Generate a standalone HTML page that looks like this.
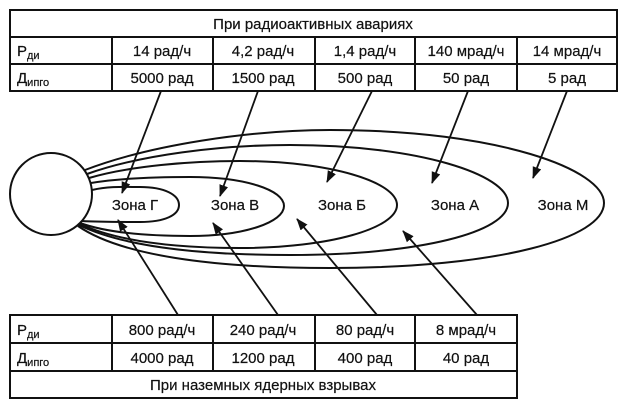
<!DOCTYPE html>
<html><head><meta charset="utf-8"><style>
html,body{margin:0;padding:0;background:#fff;}
svg{display:block;}
text{font-family:"Liberation Sans",sans-serif;font-size:15px;fill:#111;stroke:#111;stroke-width:0.2;}
</style></head><body>
<svg width="626" height="407" viewBox="0 0 626 407" xmlns="http://www.w3.org/2000/svg">
<defs><marker id="a" markerWidth="12" markerHeight="12" refX="11" refY="6" orient="auto" markerUnits="userSpaceOnUse"><path d="M0,1.5 L12,6 L0,10.5 Z" fill="#111"/></marker></defs>
<g stroke="#111" stroke-width="2" fill="none">
<rect x="10" y="10" width="607" height="81"/>
<line x1="10" y1="37" x2="617" y2="37"/><line x1="10" y1="64" x2="617" y2="64"/>
<line x1="112" y1="37" x2="112" y2="91"/><line x1="213" y1="37" x2="213" y2="91"/>
<line x1="315" y1="37" x2="315" y2="91"/><line x1="415" y1="37" x2="415" y2="91"/>
<line x1="517" y1="37" x2="517" y2="91"/>
<rect x="10" y="315" width="507" height="83"/>
<line x1="10" y1="343" x2="517" y2="343"/><line x1="10" y1="371" x2="517" y2="371"/>
<line x1="112" y1="315" x2="112" y2="371"/><line x1="213" y1="315" x2="213" y2="371"/>
<line x1="315" y1="315" x2="315" y2="371"/><line x1="415" y1="315" x2="415" y2="371"/>
<path d="M92,190 C110,186 125,187 140,187 C165,187 179,195 179,205 C179,215 165,222 140,222 C115,222 98,222 82,221"/>
<path d="M91,183 C120,178 160,177 190,177 C245,177 284,190 284,206 C284,222 245,236 190,236 C140,236 105,232 80,223"/>
<path d="M89,178 C130,166 190,161 240,161 C330,161 397,182 397,205 C397,228 330,248 240,248 C170,248 115,240 80,224"/>
<path d="M87,174 C140,155 220,145 290,145 C420,145 508,175 508,203 C508,232 420,255 290,255 C190,255 120,245 79,225"/>
<path d="M85,170 C150,145 250,130 330,130 C500,130 604,170 604,203 C604,238 500,268 330,268 C210,268 120,255 78,226"/>
</g>
<circle cx="51" cy="194" r="41" fill="#fff" stroke="#111" stroke-width="2"/>
<g stroke="#111" stroke-width="1.8" marker-end="url(#a)">
<line x1="161" y1="91" x2="122" y2="193"/>
<line x1="258" y1="91" x2="220" y2="196"/>
<line x1="372" y1="91" x2="327" y2="182"/>
<line x1="468" y1="91" x2="432" y2="183"/>
<line x1="567" y1="91" x2="533" y2="178"/>
<line x1="178" y1="315" x2="118" y2="220"/>
<line x1="278" y1="315" x2="213" y2="223"/>
<line x1="377" y1="315" x2="297" y2="219"/>
<line x1="477" y1="315" x2="403" y2="231"/>
</g>
<g text-anchor="middle">
<text x="313" y="29">При радиоактивных авариях</text>
<text x="162" y="56">14 рад/ч</text><text x="263" y="56">4,2 рад/ч</text><text x="365" y="56">1,4 рад/ч</text><text x="466" y="56">140 мрад/ч</text><text x="567" y="56">14 мрад/ч</text>
<text x="162" y="83">5000 рад</text><text x="263" y="83">1500 рад</text><text x="365" y="83">500 рад</text><text x="466" y="83">50 рад</text><text x="567" y="83">5 рад</text>
<text x="135" y="210">Зона Г</text><text x="235" y="210">Зона В</text><text x="342" y="210">Зона Б</text><text x="455" y="210">Зона А</text><text x="563" y="210">Зона М</text>
<text x="162" y="335">800 рад/ч</text><text x="263" y="335">240 рад/ч</text><text x="365" y="335">80 рад/ч</text><text x="466" y="335">8 мрад/ч</text>
<text x="162" y="363">4000 рад</text><text x="263" y="363">1200 рад</text><text x="365" y="363">400 рад</text><text x="466" y="363">40 рад</text>
<text x="263" y="390">При наземных ядерных взрывах</text>
</g>
<text x="17" y="56">Р<tspan font-size="11" dy="3">ди</tspan></text>
<text x="17" y="83">Д<tspan font-size="11" dy="3">ипго</tspan></text>
<text x="17" y="335">Р<tspan font-size="11" dy="3">ди</tspan></text>
<text x="17" y="363">Д<tspan font-size="11" dy="3">ипго</tspan></text>
</svg>
</body></html>
